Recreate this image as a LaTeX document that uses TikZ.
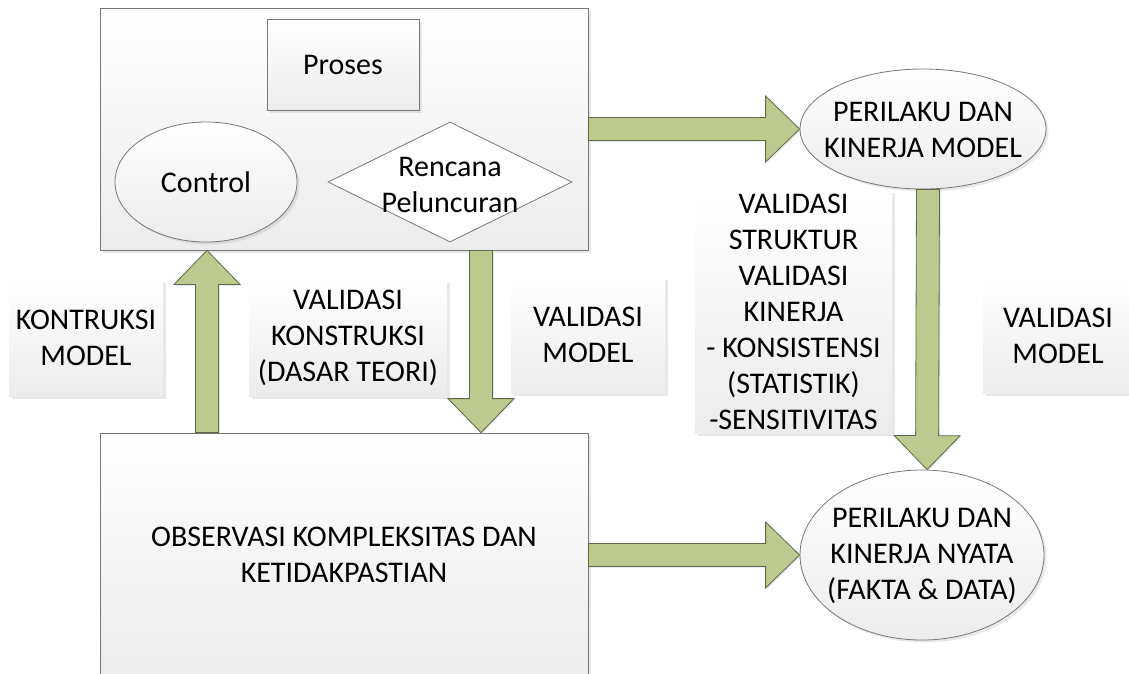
\documentclass[tikz,border=0pt]{standalone}
\usepackage{fontspec}
\setmainfont{Carlito}
\usetikzlibrary{calc,shapes.geometric,shadows}
\definecolor{arrowfill}{RGB}{188,202,143}
\definecolor{arrowdraw}{RGB}{95,105,70}
\definecolor{boxdraw}{RGB}{120,120,120}
\definecolor{boxbot}{RGB}{236,236,236}
\tikzset{
  lbl/.style={font=\fontsize{30}{36}\selectfont, align=center, text=black, inner sep=0pt},
  softshadow/.style={drop shadow={opacity=0.18, shadow xshift=2.5pt, shadow yshift=-2.5pt}},
  panel/.style={draw=boxdraw, line width=0.8pt, top color=white, bottom color=boxbot, inner sep=0pt, softshadow},
  tagbox/.style={top color=white, bottom color=boxbot, inner sep=0pt, softshadow, lbl},
  oval/.style={ellipse, draw=boxdraw, line width=0.8pt, top color=white, bottom color=boxbot, inner sep=0pt, softshadow},
  rhomb/.style={diamond, draw=boxdraw, line width=0.8pt, fill=white, inner sep=0pt},
  blockarrow/.style={fill=arrowfill, draw=arrowdraw, line width=0.8pt, line join=miter,
    drop shadow={opacity=0.15, shadow xshift=1.5pt, shadow yshift=-1.5pt}},
}
\newcommand\BlockArrow[2]{%
  \coordinate (ba-h) at ($(#2)!34pt!(#1)$);
  \draw[blockarrow] ($(#1)!11.5pt!90:(#2)$) -- ($(ba-h)!11.5pt!90:(#2)$) -- ($(ba-h)!33pt!90:(#2)$)
    -- (#2) -- ($(ba-h)!33pt!-90:(#2)$) -- ($(ba-h)!11.5pt!-90:(#2)$) -- ($(#1)!11.5pt!-90:(#2)$) -- cycle;
}
\begin{document}
\begin{tikzpicture}[x=1pt,y=-1pt]
  \clip (0,0) rectangle (1129,673);
  \fill[white] (0,0) rectangle (1129,673);

  % label boxes
  \node[tagbox, minimum width=154pt, minimum height=116pt] (kon) at (86,338) {KONTRUKSI\\MODEL};
  \node[tagbox, minimum width=198pt, minimum height=116pt] (vk) at (348,338) {VALIDASI\\KONSTRUKSI\\(DASAR TEORI)};
  \node[tagbox, minimum width=154pt, minimum height=116pt] (vm1) at (588,335) {VALIDASI\\MODEL};
  \node[tagbox, minimum width=197pt, minimum height=243pt] (vs) at (793.5,311.5) {VALIDASI\\STRUKTUR\\VALIDASI\\KINERJA\\- KONSISTENSI\\(STATISTIK)\\-SENSITIVITAS};
  \node[tagbox, minimum width=150pt, minimum height=115pt] (vm2) at (1058,335.5) {VALIDASI\\MODEL};

  % top panel
  \node[panel, minimum width=488pt, minimum height=242pt] (top) at (344,129) {};
  \node[panel, lbl, draw=boxdraw, minimum width=152pt, minimum height=91pt] (proses) at (343,64.5) {Proses};
  \node[oval, minimum width=182pt, minimum height=120pt] (ctl) at (206,182) {};
  \node[lbl] (ctl-t) at (ctl) {Control};
  \node[rhomb, minimum width=244pt, minimum height=120pt] (dia) at (450,182) {};
  \node[lbl] (dia-t) at (450,185) {Rencana\\Peluncuran};

  % bottom panel
  \node[panel, minimum width=488pt, minimum height=244pt] (bot) at (344,555) {};
  \node[lbl] (bot-t) at (bot) {OBSERVASI KOMPLEKSITAS DAN\\KETIDAKPASTIAN};

  % right ellipses
  \node[oval, minimum width=246pt, minimum height=120pt] (pk) at (923,129) {};
  \node[lbl] (pk-t) at (923,130) {PERILAKU DAN\\KINERJA MODEL};
  \node[oval, minimum width=244pt, minimum height=170pt] (pn) at (922,555) {};
  \node[lbl] (pn-t) at (922,556) {PERILAKU DAN\\KINERJA NYATA\\(FAKTA \& DATA)};

  % arrows
  \coordinate (up-a) at ([xshift=-137pt]bot.north);
  \coordinate (up-b) at ([xshift=-137pt]top.south);
  \coordinate (dl-a) at ([xshift=137pt]top.south);
  \coordinate (dl-b) at ([xshift=137pt]bot.north);
  \coordinate (dr-a) at ([xshift=5pt]pk.south);
  \coordinate (dr-b) at ([xshift=5pt]pn.north);
  \BlockArrow{top.east}{pk.west}
  \BlockArrow{bot.east}{pn.west}
  \BlockArrow{up-a}{up-b}
  \BlockArrow{dl-a}{dl-b}
  \BlockArrow{dr-a}{dr-b}
\end{tikzpicture}
\end{document}
